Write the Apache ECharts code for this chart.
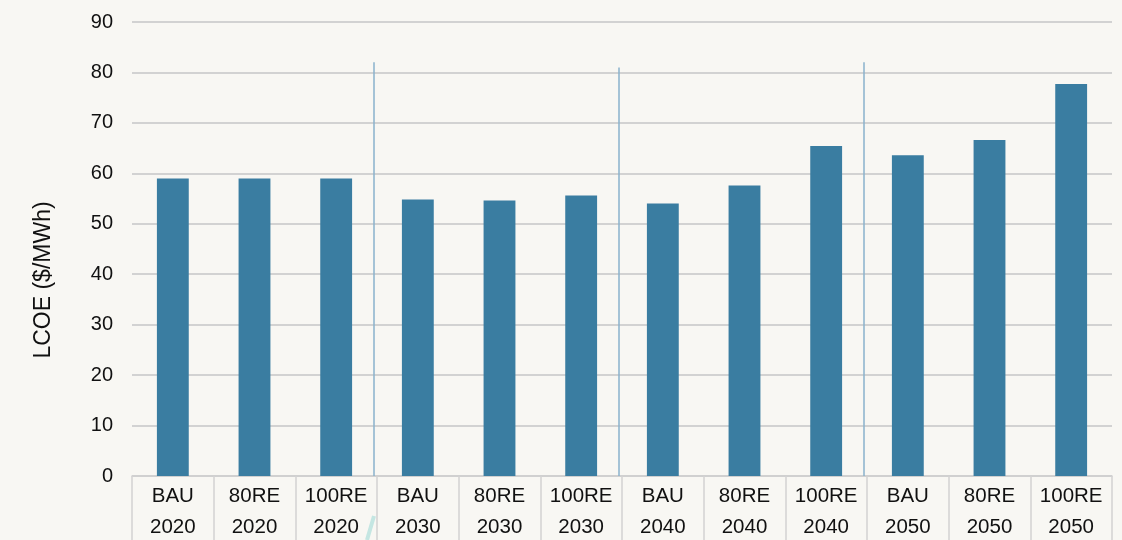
<!DOCTYPE html>
<html>
<head>
<meta charset="utf-8">
<title>LCOE by scenario</title>
<script src="https://cdn.jsdelivr.net/npm/echarts@6/dist/echarts.min.js"></script>
<style>
  html, body { margin: 0; padding: 0; background: #f8f7f3; }
  #chart { width: 1122px; height: 540px; }
</style>
</head>
<body>
<div id="chart"></div>
<script>
// Scenario / year pairs shown under each bar
const scenarios = ['BAU', '80RE', '100RE', 'BAU', '80RE', '100RE', 'BAU', '80RE', '100RE', 'BAU', '80RE', '100RE'];
const years = ['2020', '2020', '2020', '2030', '2030', '2030', '2040', '2040', '2040', '2050', '2050', '2050'];
// Levelised cost of electricity, $/MWh
const lcoe = [59.0, 59.0, 59.0, 54.8, 54.6, 55.6, 54.0, 57.6, 65.4, 63.6, 66.6, 77.7];
// Y axis ticks
const yTicks = [0, 10, 20, 30, 40, 50, 60, 70, 80, 90];
// Decade dividers: boundary index between groups and top value of each line
const dividerAt = [3, 6, 9];
const dividerTop = [82, 81, 82];

const categories = scenarios.map((s, i) => s + '\n' + years[i]);

const chart = echarts.init(document.getElementById('chart'), null, { renderer: 'canvas' });

const option = {
  backgroundColor: '#f8f7f3',
  animation: false,
  grid: { left: 132, right: 10, top: 22, bottom: 64, containLabel: false, outerBoundsMode: 'none' },
  xAxis: [
    {
      type: 'category',
      data: categories,
      boundaryGap: true,
      axisLine: { show: true, lineStyle: { color: '#cfcfcf', width: 1.5 } },
      axisTick: { show: true, length: 66, lineStyle: { color: '#d2d2d2', width: 1.5 } },
      axisLabel: {
        interval: 0,
        margin: 5,
        fontFamily: 'Liberation Sans, Arial, sans-serif',
        fontSize: 20.5,
        lineHeight: 31,
        color: '#111'
      },
      splitLine: { show: false }
    },
    {
      // hidden numeric axis used to place the group dividers on category boundaries
      type: 'value',
      min: 0,
      max: categories.length,
      show: false
    }
  ],
  yAxis: {
    type: 'value',
    min: yTicks[0],
    max: yTicks[yTicks.length - 1],
    interval: 10,
    axisLine: { show: false },
    axisTick: { show: false },
    axisLabel: {
      margin: 19,
      fontFamily: 'Liberation Sans, Arial, sans-serif',
      fontSize: 20,
      color: '#111'
    },
    splitLine: { lineStyle: { color: '#d2d2d2', width: 1.8 } }
  },
  series: [
    {
      type: 'bar',
      data: lcoe,
      barWidth: '39%',
      itemStyle: { color: '#3a7da1' }
    },
    {
      type: 'line',
      xAxisIndex: 1,
      data: [],
      silent: true,
      markLine: {
        symbol: 'none',
        silent: true,
        label: { show: false },
        lineStyle: { color: '#8ab2cc', width: 1.5, type: 'solid' },
        data: dividerAt.map((x, i) => [
          { coord: [x - 0.04, dividerTop[i]] },
          { coord: [x - 0.04, 0] }
        ])
      }
    }
  ],
  graphic: [
    {
      type: 'text',
      x: 44,
      y: 280,
      rotation: Math.PI / 2,
      style: {
        text: 'LCOE ($/MWh)',
        fontFamily: 'Liberation Sans, Arial, sans-serif',
        fontSize: 23,
        fill: '#111',
        align: 'center',
        verticalAlign: 'middle'
      }
    },
    {
      type: 'line',
      shape: { x1: 374, y1: 516, x2: 367, y2: 540 },
      style: { stroke: '#c4e6e2', lineWidth: 4 }
    }
  ]
};

chart.setOption(option);
</script>
</body>
</html>
